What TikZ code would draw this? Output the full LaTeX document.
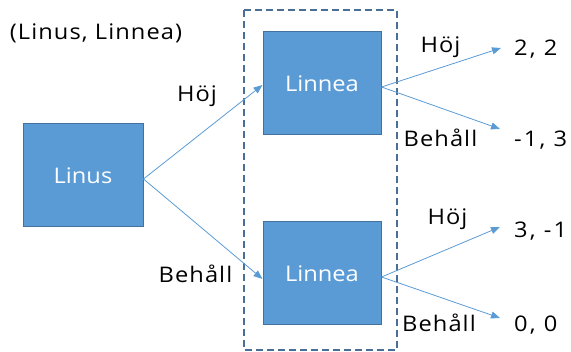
\documentclass[tikz,border=0pt]{standalone}
\usepackage{fontspec}
\setmainfont{Open Sans}[FakeStretch=1.1]
\newfontfamily\widesans{Open Sans}[FakeStretch=1.1, LetterSpace=5]
\newfontfamily\widersans{Open Sans}[FakeStretch=1.1, LetterSpace=10]
\usetikzlibrary{arrows.meta}
\definecolor{boxfill}{HTML}{5B9BD5}
\definecolor{boxline}{HTML}{41719C}
\definecolor{dashline}{HTML}{4A6F96}
\tikzset{
  player/.style={draw=boxline, line width=1pt, fill=boxfill, text=white,
    minimum width=118pt, minimum height=103pt, inner sep=0pt,
    font=\fontsize{21.5}{25}\selectfont},
  lbl/.style={anchor=base, inner sep=2pt, font=\widesans\fontsize{21.5}{25}\selectfont},
  payoff/.style={anchor=base west, inner sep=2pt, font=\widersans\fontsize{21.5}{25}\selectfont},
  move/.style={draw=boxfill, line width=0.8pt, -{Triangle[length=9pt,width=7pt]}},
  infoset/.style={draw=dashline, line width=1.1pt, dash pattern=on 7pt off 4pt}
}
\begin{document}
\begin{tikzpicture}[x=1pt,y=-1pt]
  \useasboundingbox (0,0) rectangle (571,352);
  % information set of the second mover
  \draw[infoset] (244,10) rectangle (397,350);

  % decision nodes
  \node[player, minimum width=120pt] (linus) at (83,175.5) {Linus};
  \node[player] (lin1) at (322,83.5) {Linnea};
  \node[player] (lin2) at (322,273.5) {Linnea};

  % header
  \node[lbl] (hdr) at (96,40) {(Linus, Linnea)};

  % payoffs
  \node[payoff] (p1) at (512,56) {2, 2};
  \node[payoff] (p2) at (512,147) {-1, 3};
  \node[payoff] (p3) at (512,238) {3, -1};
  \node[payoff] (p4) at (512,332) {0, 0};

  % arrow tips in front of the payoffs
  \coordinate (t1) at (501,48);
  \coordinate (t2) at (500,129);
  \coordinate (t3) at (500,227);
  \coordinate (t4) at (500,318);

  % moves of Linus
  \draw[move] ([yshift=-3.5pt]linus.east) -- ([yshift=-1.5pt]lin1.west);
  \draw[move] ([yshift=-3.5pt]linus.east) -- ([yshift=-5.5pt]lin2.west);
  \node[lbl] (m1) at (197,102) {Höj};
  \node[lbl] (m2) at (195.5,283) {Behåll};

  % moves of Linnea
  \draw[move] ([yshift=-3.5pt]lin1.east) -- (t1);
  \draw[move] ([yshift=-3.5pt]lin1.east) -- (t2);
  \draw[move] ([yshift=-3.5pt]lin2.east) -- (t3);
  \draw[move] ([yshift=-3.5pt]lin2.east) -- (t4);
  \node[lbl] (m3) at (440.5,53) {Höj};
  \node[lbl] (m4) at (440.5,147) {Behåll};
  \node[lbl] (m5) at (447.5,225) {Höj};
  \node[lbl] (m6) at (439,332) {Behåll};
\end{tikzpicture}
\end{document}
